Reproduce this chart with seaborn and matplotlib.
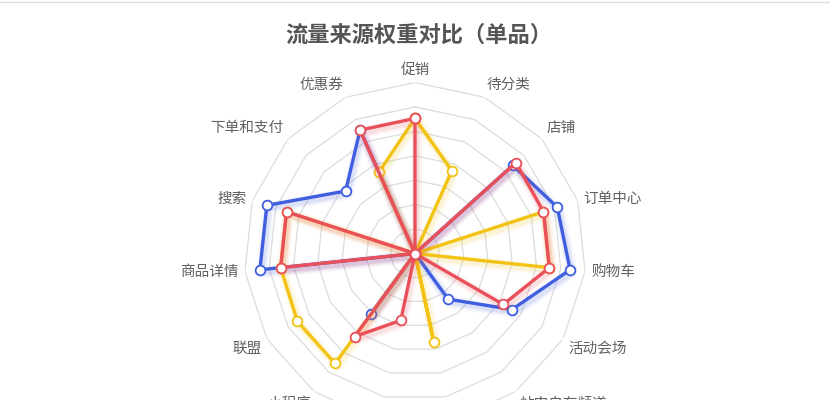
import numpy as np
import pandas as pd
import matplotlib
matplotlib.use('Agg')
import matplotlib.pyplot as plt
import matplotlib.transforms as mtransforms
from matplotlib.lines import Line2D
import seaborn as sns

# 雷达图的维度（顺时针，从正上方开始）
categories = ['促销', '待分类', '店铺', '订单中心', '购物车', '活动会场', '站内自有频道',
              '首页', '其他', '小程序', '联盟', '商品详情', '搜索', '下单和支付', '优惠券']

# 三个单品的权重（按最大值归一化后）
blue_vals = [0, 0, 0.77, 0.875, 0.912, 0.655, 0.33, 0, 0, 0.436, 0, 0.912, 0.911, 0.546, 0.79]
yellow_vals = [0.79, 0.53, 0, 0.79, 0.79, 0, 0, 0.527, 0, 0.795, 0.794, 0.79, 0.79, 0, 0.52]
red_vals = [0.79, 0, 0.794, 0.79, 0.79, 0.596, 0, 0, 0.40, 0.60, 0, 0.79, 0.79, 0, 0.79]

series_colors = ['#3f5ee0', '#f2c314', '#e9505a']
title = '流量来源权重对比（单品）'
n_rings = 7

sns.set_theme(style='white')
plt.rcParams['font.family'] = ['Noto Sans CJK SC', 'DejaVu Sans']

fig = plt.figure(figsize=(8.3, 4.0), dpi=100)
# 图被裁掉了下半部分，所以坐标轴伸出画布底部
ax = fig.add_axes([244 / 830, (146.5 - 171) / 400, 342 / 830, 342 / 400], projection='polar')
ax.set_theta_offset(np.pi / 2)
ax.set_theta_direction(-1)

n = len(categories)
theta = np.arange(n) * 2 * np.pi / n
theta_closed = np.append(theta, 2 * np.pi)

# 多边形网格
for k in range(1, n_rings + 1):
    ax.plot(theta_closed, [k / n_rings] * (n + 1), color='#dcdcdc', lw=0.9, zorder=1)

# 阴影偏移（模拟 echarts 的 shadowBlur）
shadow = ax.transData + mtransforms.ScaledTranslation(1.2 / 72, -2 / 72, fig.dpi_scale_trans)

for i, (vals, c) in enumerate(zip([blue_vals, yellow_vals, red_vals], series_colors)):
    z = 3 + i
    df = pd.DataFrame({'theta': theta_closed, 'r': vals + vals[:1]})
    for lw, a in [(8.5, 0.04), (6, 0.06), (4, 0.09)]:
        ax.plot(df['theta'], df['r'], color=c, lw=lw, alpha=a, transform=shadow,
                solid_joinstyle='round', zorder=z)
    sns.lineplot(data=df, x='theta', y='r', sort=False, estimator=None, ax=ax,
                 color=c, lw=2.4, marker='o', markersize=7, markerfacecolor='white',
                 markeredgecolor=c, markeredgewidth=1.3, zorder=z)

# 维度名称
for t, name in zip(theta, categories):
    sx, sy = np.sin(t), np.cos(t)
    ha = 'center' if abs(sx) < 0.05 else ('left' if sx > 0 else 'right')
    va = 'bottom' if sy > 0.4 else ('top' if sy < -0.4 else 'center')
    ax.text(t, 1.035, name, ha=ha, va=va, fontsize=10.5, color='#606060', clip_on=False)

ax.set_ylim(0, 1)
ax.set_axis_off()

fig.text(0.5 + 4 / 830, 1 - 35 / 400, title, ha='center', va='center', fontsize=16,
         fontweight='bold', color='#555555')
fig.add_artist(Line2D([0, 1], [0.996, 0.996], color='#dddddd', lw=1))

fig.savefig('out.png', dpi=100)
